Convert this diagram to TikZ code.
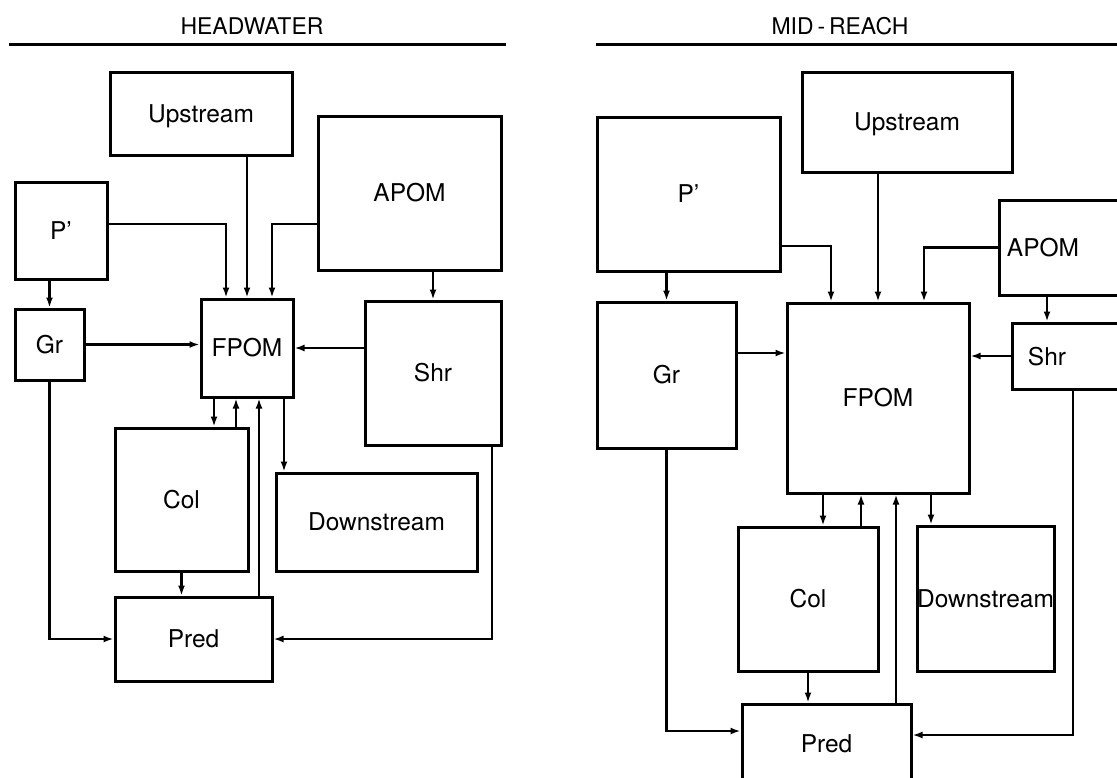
\documentclass[tikz,border=0pt]{standalone}
\usepackage{fontspec}
\setmainfont{TeX Gyre Heros}
\usetikzlibrary{arrows.meta}
\tikzset{
  box/.style={draw, line width=3pt, rectangle, inner sep=0pt,
    font=\fontsize{24.5}{28}\selectfont, text height=17pt, text depth=0pt},
  lbl/.style={inner sep=0pt, font=\fontsize{24.5}{28}\selectfont, text height=17pt, text depth=0pt},
  ttl/.style={inner sep=0pt, font=\fontsize{23}{26}\selectfont},
  rulel/.style={line width=3pt},
  arr/.style={line width=2.5pt, -{Latex[length=10pt,width=7pt]}},
}
\newcommand{\bx}[6]{\node[box, minimum width=#4pt, minimum height=#5pt] (#1) at (#2,#3) {#6};}
\begin{document}
\begin{tikzpicture}[x=1pt,y=-1pt]
\useasboundingbox (0,0) rectangle (1117,777);
\clip (0,0) rectangle (1117,777);
% ---------------- HEADWATER ----------------
\node[ttl] (httl) at (252,26) {HEADWATER};
\draw[rulel] (9,44) -- (506,44);
\bx{hup}{201}{113.5}{182}{83}{Upstream}
\bx{hapom}{409.5}{193}{183}{154}{APOM}
\bx{hp}{61}{230.5}{92}{97}{P’}
\bx{hgr}{49.5}{344.5}{69}{71}{Gr}
\bx{hfpom}{247}{348}{92}{98}{FPOM}
\bx{hshr}{433}{373}{136}{144}{Shr}
\bx{hcol}{181.5}{499.5}{133}{143}{Col}
\bx{hdown}{376.5}{522}{201}{98}{Downstream}
\bx{hpred}{193.5}{639}{157}{84}{Pred}
\coordinate (ha) at ([xshift=-33pt]hfpom.south);
\coordinate (hb) at ([xshift=-11pt]hfpom.south);
\coordinate (hc) at ([xshift=12pt]hfpom.south);
\coordinate (hd) at ([xshift=37pt]hfpom.south);
\coordinate (he) at ([xshift=59pt]hshr.south);
\draw[arr] (hfpom.north |- hup.south) -- (hfpom.north);
\draw[arr] ([yshift=6.5pt]hp.east) -| ([xshift=-21pt]hfpom.north);
\draw[arr] ([yshift=-31pt]hapom.west) -| ([xshift=25pt]hfpom.north);
\draw[arr] (hshr.north |- hapom.south) -- (hshr.north);
\draw[arr] (hgr.north |- hp.south) -- (hgr.north);
\draw[arr] (hgr.east) -- (hgr.east -| hfpom.west);
\draw[arr] (hshr.west |- hfpom.east) -- (hfpom.east);
\draw[arr] (ha) -- (ha |- hcol.north);
\draw[arr] (hb |- hcol.north) -- (hb);
\draw[arr] (hc |- hpred.north) -- (hc);
\draw[arr] (hd) -- (hd |- hdown.north);
\draw[arr] (hcol.south) -- (hcol.south |- hpred.north);
\draw[arr] (hgr.south) |- (hpred.west);
\draw[arr] (he) |- (hpred.east);
% ---------------- MID-REACH ----------------
\node[ttl] (mttl) at (840,26) {MID\thinspace-\thinspace REACH};
\draw[rulel] (596,44) -- (1117,44);
\bx{mup}{907}{122}{210}{100}{Upstream}
\bx{mp}{688.5}{194}{183}{154}{P’}
\bx{mapom}{1069.5}{247.5}{141}{95}{}
\node[lbl] (mapomt) at (1043,248) {APOM};
\bx{mshr}{1076}{356}{128}{66}{}
\node[lbl] (mshrt) at (1047,357) {Shr};
\bx{mgr}{666.5}{375}{139}{146}{Gr}
\bx{mfpom}{878}{398}{182}{190}{FPOM}
\bx{mcol}{808}{599}{140}{144}{Col}
\bx{mdown}{985.5}{598.5}{137}{145}{Downstream}
\bx{mpred}{826.5}{744}{169}{80}{Pred}
\coordinate (ma) at ([xshift=-55pt]mfpom.south);
\coordinate (mb) at ([xshift=-17pt]mfpom.south);
\coordinate (mc) at ([xshift=18pt]mfpom.south);
\coordinate (md) at ([xshift=53pt]mfpom.south);
\coordinate (me) at ([xshift=-3pt]mshr.south);
\coordinate (mf) at ([xshift=-29pt]mshr.north);
\draw[arr] (mfpom.north |- mup.south) -- (mfpom.north);
\draw[arr] ([yshift=-52pt]mp.east) -| ([xshift=-47pt]mfpom.north);
\draw[arr] (mapom.west) -| ([xshift=46pt]mfpom.north);
\draw[arr] (mf |- mapom.south) -- (mf);
\draw[arr] (mgr.north |- mp.south) -- (mgr.north);
\draw[arr] ([yshift=22pt]mgr.east) -- ([yshift=22pt]mgr.east -| mfpom.west);
\draw[arr] (mshr.west) -- (mshr.west -| mfpom.east);
\draw[arr] (ma) -- (ma |- mcol.north);
\draw[arr] (mb |- mcol.north) -- (mb);
\draw[arr] (mc |- mpred.north) -- (mc);
\draw[arr] (md) -- (md |- mdown.north);
\draw[arr] (mcol.south) -- (mcol.south |- mpred.north);
\draw[arr] (mgr.south) |- ([yshift=13pt]mpred.west);
\draw[arr] (me) |- ([yshift=9pt]mpred.east);
\end{tikzpicture}
\end{document}
